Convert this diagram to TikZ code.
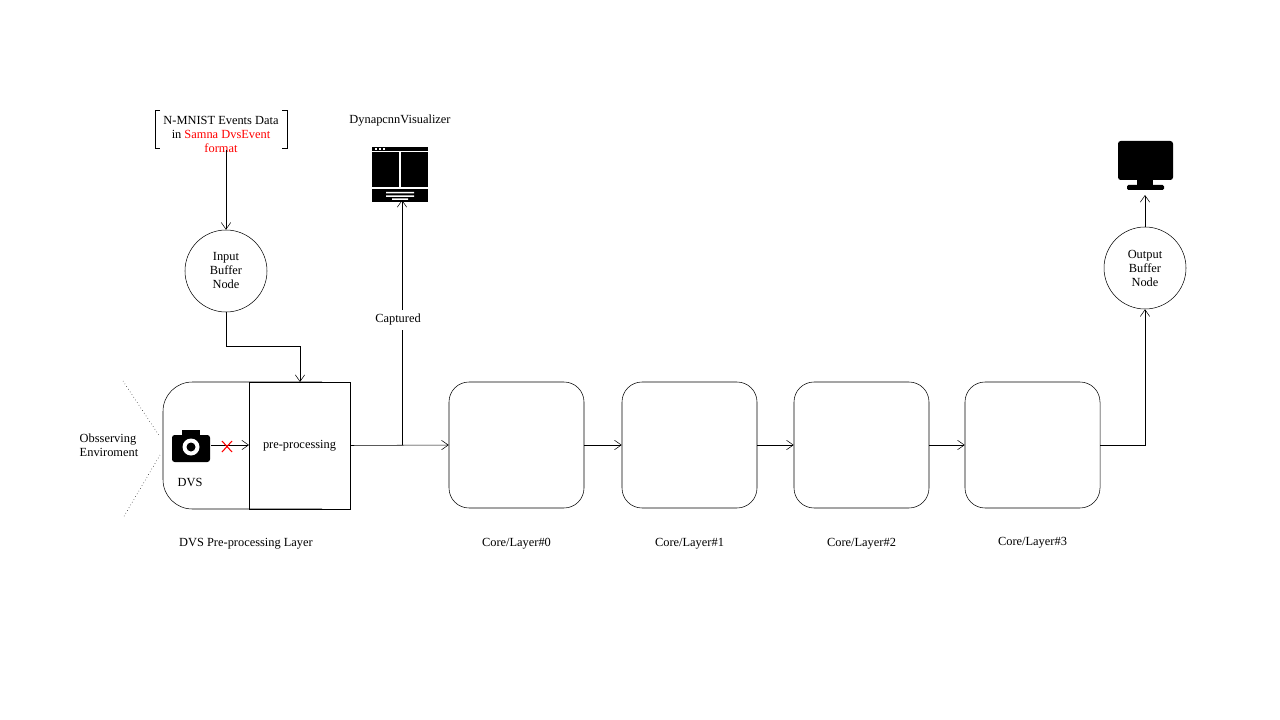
\documentclass[tikz,border=0pt]{standalone}
\usepackage{fontspec}
\setmainfont{Liberation Serif}
\usetikzlibrary{arrows.meta}
\begin{document}
\begin{tikzpicture}[x=0.75pt,y=-0.75pt,font=\fontsize{9.3}{10.5}\selectfont,
 arr/.style={-{Straight Barb[length=5pt,width=7pt]},thin},
 core/.style={draw,rounded corners=15pt,minimum width=101.25pt,minimum height=94.5pt},
 circ/.style={draw,circle,minimum size=61.5pt,align=center,inner sep=0pt}]
\useasboundingbox (0,0) rectangle (1280,720);
% top-left data
\node[align=center] (data) at (221,134) {N-MNIST Events Data\\in \textcolor{red}{Samna DvsEvent}\\\textcolor{red}{format}};
\draw (160,110) -- (155,110) -- (155,148) -- (160,148);
\draw (282,110) -- (287,110) -- (287,148) -- (282,148);
\node[circ] (ib) at (226,271) {Input\\Buffer\\Node};
\coordinate (dbot) at (226,150);
\draw[arr] (dbot) -- (ib.north);
% DVS layer
\draw[rounded corners=22pt] (322,382) -- (163,382) -- (163,509) -- (322,509);
\node[draw,minimum width=75.75pt,minimum height=95.25pt] (pp) at (299.5,445.5) {pre-processing};
\coordinate (pptop) at (300,382);
\draw[arr] (ib.south) -- (226,346) -- (300,346) -- (pptop);
% camera
\node (cam) at (191,445) {};
\fill[rounded corners=2pt] (172,435) rectangle (210,462);
\fill (182,430) rectangle (200,437);
\fill[white] (191,447) circle (8.5);
\fill (191,447) circle (4.5);
\coordinate (camr) at (211,445);
\coordinate (ppl) at (249,445);
\draw[arr] (camr) -- (ppl);
\draw[red,thick] (222,441) -- (232,452) (232,441) -- (222,452);
\draw[dotted] (123,381) -- (160,437) (160,455) -- (123,518);
\node[align=left] at (109,445) {Obsserving\\Enviroment};
\node at (190,482) {DVS};
\node at (246,544) {DVS Pre-processing Layer};
% cores
\node[core] (c0) at (516.5,445) {};
\node[core] (c1) at (689.5,445) {};
\node[core] (c2) at (861.5,445) {};
\node[core] (c3) at (1032.5,445) {};
\node at (516.5,544) {Core/Layer\#0};
\node at (689.5,544) {Core/Layer\#1};
\node at (861.5,544) {Core/Layer\#2};
\node at (1032.5,543) {Core/Layer\#3};
\draw[arr] (pp.east) -- (c0.west);
\draw[arr] (c0) -- (c1);
\draw[arr] (c1) -- (c2);
\draw[arr] (c2) -- (c3);
% visualizer
\node at (400,121) {DynapcnnVisualizer};
\node[inner sep=0pt,minimum width=42pt,minimum height=41pt] (vis) at (400,175) {};
\fill (372,147) rectangle (428,202);
\fill[white] (372,151) rectangle (428,152.5);
\fill[white] (399,152) rectangle (401,187);
\fill[white] (372,187) rectangle (428,189);
\foreach \i in {375,379,383} \fill[white] (\i,148.3) rectangle (\i+2,149.7);
\fill[white] (386,192) rectangle (414,193.5) (386,195.5) rectangle (414,197) (392,198.5) rectangle (408,200);
\node (cap) at (398,320) {Captured};
\coordinate (br) at (402,445);
\coordinate (vb) at (402,200);
\draw (br) -- (402,330);
\draw[arr] (402,310) -- (vb);
% output
\node[circ] (ob) at (1145,268) {Output\\Buffer\\Node};
\draw[arr] (c3.east) -- (1145,445) -- (ob.south);
\node[inner sep=0pt,minimum width=41pt,minimum height=40pt] (mon) at (1145,166) {};
\fill[rounded corners=2pt] (1118,141) rectangle (1173,180);
\fill (1137,180) rectangle (1153,186);
\fill[rounded corners=1pt] (1127,185) rectangle (1164,190);
\draw[arr] (ob.north) -- (1145,195);
\end{tikzpicture}
\end{document}
